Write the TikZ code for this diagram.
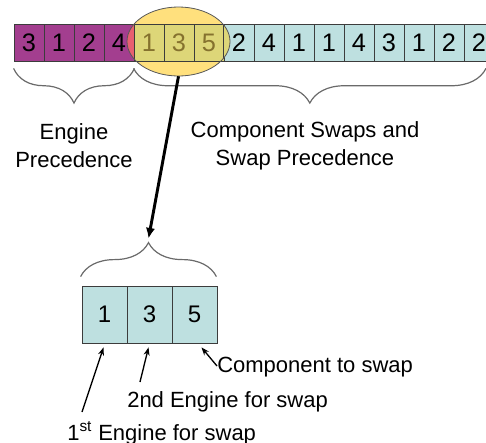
\documentclass[tikz,border=0pt]{standalone}
\usepackage{fontspec}
\setmainfont{Liberation Sans}
\usetikzlibrary{arrows.meta, calc, shapes.geometric, decorations.pathreplacing}

\definecolor{engMagenta}{HTML}{A33E8F}
\definecolor{swapCyan}{HTML}{BEE0E0}
\definecolor{haloYellow}{HTML}{FFE07D}
\definecolor{haloOlive}{HTML}{DDD678}
\definecolor{haloRed}{HTML}{E86070}
\definecolor{haloInk}{HTML}{85722E}
\definecolor{rimGrey}{HTML}{3C3C3C}
\definecolor{braceGrey}{HTML}{6A6A6A}

\tikzset{
  %% chromosome cells
  cell/.style      = {draw=rimGrey, line width=0.6pt, minimum width=22.5pt,
                      minimum height=27.75pt, inner sep=0pt,
                      font=\fontsize{19}{19}\selectfont},
  cellEng/.style   = {cell, fill=engMagenta},
  cellSwap/.style  = {cell, fill=swapCyan},
  cellHalo/.style  = {cell, fill=haloOlive, text=haloInk},
  pickCell/.style  = {cell, fill=swapCyan, minimum width=33.75pt,
                      minimum height=42.75pt, font=\fontsize{18}{18}\selectfont},
  %% braces, labels, arrows
  accolade/.style  = {draw=braceGrey, line width=0.9pt, decorate},
  legende/.style   = {font=\fontsize{16.5}{21}\selectfont, inner sep=0pt,
                      align=center},
  renvoi/.style    = {-{Stealth[length=6pt, width=4.5pt]}, line width=1pt},
  grosRenvoi/.style = {-{Latex[length=8pt, width=7pt]}, line width=2.2pt},
}

\begin{document}
\begin{tikzpicture}[x=0.75pt, y=-0.75pt]
\useasboundingbox (0,0) rectangle (486,443);

% halo round the three picked genes
\node[ellipse, fill=haloYellow, minimum width=77.25pt, minimum height=51.75pt,
      inner sep=0pt] (halo) at (178.5,41.5) {};

% the chromosome
\foreach \v [count=\i] in {3,1,2,4}
  \node[cellEng] (c\i) at (30*\i-1, 42.5) {\v};
\foreach \v [count=\i from 5] in {1,3,5}
  \node[cellHalo] (c\i) at (30*\i-1, 42.5) {\v};
\foreach \v [count=\i from 8] in {2,4,1,1,4,3,1,2,2}
  \node[cellSwap] (c\i) at (30*\i-1, 42.5) {\v};

% where the halo spills onto its neighbours
\begin{scope}
  \clip (halo.center) ellipse [x radius=51.5, y radius=34.5];
  \fill[haloRed] (c4.south west) rectangle (c4.north east);
  \fill[haloOlive] (c8.south west) rectangle (c8.north east);
  \draw[rimGrey, line width=0.6pt] (c4.south west) rectangle (c4.north east)
                                   (c8.south west) rectangle (c8.north east);
\end{scope}
\draw[rimGrey!85, line width=0.6pt] (halo.center) ellipse [x radius=51.5, y radius=34.5];

\draw[accolade, decoration={brace, mirror, amplitude=26pt}]
  ($(c1.south west)+(0,7)$) -- ($(c4.south east)+(0,7)$);
\draw[accolade, decoration={brace, mirror, amplitude=26pt}]
  ($(c5.south west)+(0,7)$) -- ($(c16.south)+(7,7)$);

\node[legende] (engLbl) at (74,146) {Engine\\Precedence};
\node[legende] (swapLbl) at (305,146) {Component Swaps and\\Swap Precedence};

% the swap gene, blown up
\foreach \v [count=\i] in {1,3,5}
  \node[pickCell] (b\i) at (59.5+45*\i, 314.5) {\v};

\draw[accolade, decoration={brace, amplitude=25.5pt}]
  ($(b1.north west)+(-1,-9)$) -- ($(b3.north east)+(-1,-9)$);
\coordinate (pick) at ($(b2.north)+(-1,-47)$);
\draw[grosRenvoi] (halo.south) -- (pick);

\node[legende, anchor=base west] (compLbl) at (217,372) {Component to swap};
\node[legende, anchor=base west] (secLbl) at (127,407) {2nd Engine for swap};
\node[legende, anchor=base west] (firstLbl) at (67,440) {1\textsuperscript{st} Engine for swap};

\draw[renvoi] ($(firstLbl.base west)+(15,-28)$) -- ($(b1.south)+(-1,4)$);
\draw[renvoi] ($(secLbl.base west)+(13,-25)$) -- ($(b2.south)+(-1,4)$);
\draw[renvoi] ($(compLbl.base west)+(0,-6)$) -- ($(b3.south)+(7,4)$);

\end{tikzpicture}
\end{document}
